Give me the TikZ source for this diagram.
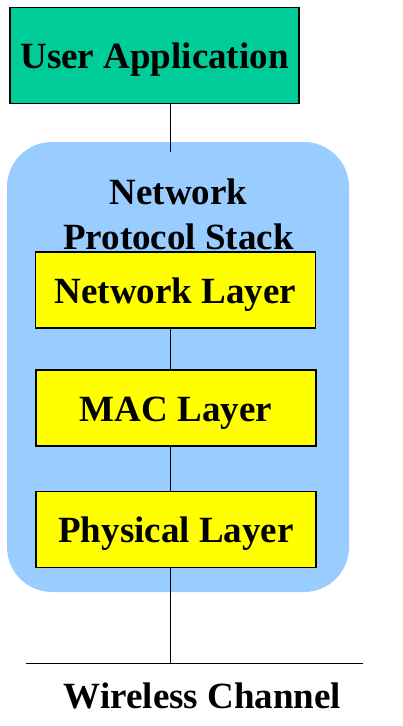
\documentclass[tikz,border=0pt]{standalone}
\usepackage{fontspec}
\setmainfont{Liberation Serif}
\definecolor{appgreen}{HTML}{00CC99}
\definecolor{stackblue}{HTML}{99CCFF}
\definecolor{layeryellow}{HTML}{FFFF00}
\begin{document}
\begin{tikzpicture}[x=1pt,y=-1pt,
  bigtext/.style={font=\fontsize{37}{45}\selectfont\bfseries},
  layer/.style={bigtext,draw,fill=layeryellow,line width=1.2pt,inner sep=0pt,
    minimum width=280pt,minimum height=76pt,text height=29pt,text depth=3pt},
  wire/.style={line width=1pt}]
\useasboundingbox (0,0) rectangle (403,726);
\coordinate (BUS) at (170,663);
\coordinate (WL) at (26,663);
\coordinate (WR) at (363,663);
\node[fill=stackblue,rounded corners=45pt,inner sep=0pt,
  minimum width=342pt,minimum height=450pt] (stack) at (178,367) {};
\node[bigtext,draw,fill=appgreen,line width=1.2pt,inner sep=0pt,
  minimum width=289pt,minimum height=96pt,text height=29pt,text depth=3pt] (app) at (154.5,55.5) {User Application};
\node[bigtext,align=center,inner sep=0pt] (title) at (178.5,214) {Network\\Protocol Stack};
\node[layer] (net) at (175.5,290) {Network Layer};
\node[layer] (mac) at (176,408) {MAC Layer};
\node[layer] (phy) at (176,529.5) {Physical Layer};
\node[bigtext,anchor=base,inner sep=0pt] (chan) at (202.5,708) {Wireless Channel};
\draw[wire] (app.south -| BUS) -- ([yshift=-10pt]stack.north -| BUS);
\draw[wire] (net.south -| BUS) -- (mac.north -| BUS);
\draw[wire] (mac.south -| BUS) -- (phy.north -| BUS);
\draw[wire] (phy.south -| BUS) -- (BUS);
\draw[wire] (WL) -- (WR);
\end{tikzpicture}
\end{document}
